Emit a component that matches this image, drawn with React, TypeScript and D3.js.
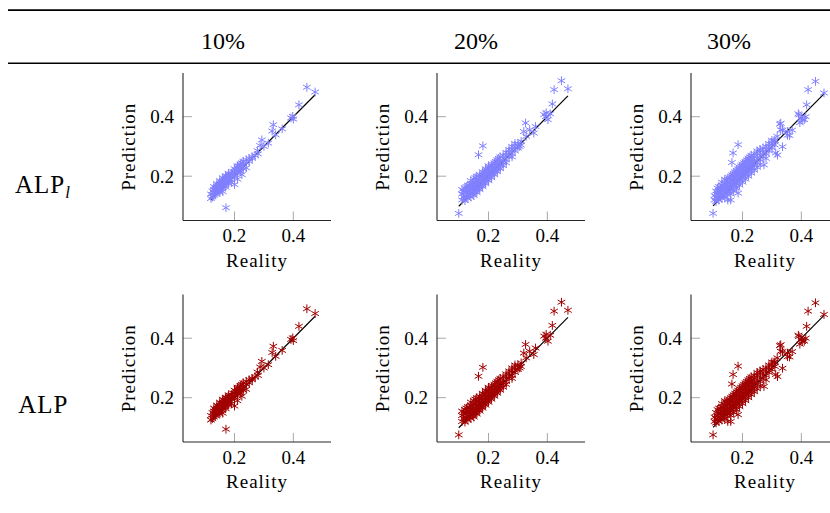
import React from "react";
import * as d3 from "d3";

// ---------- data ----------
const columnLabels = ["10%", "20%", "30%"];
const rowLabels = ["ALP", "ALP"]; // first row gets an italic subscript l
const rowColors = ["#8080ff", "#a00000"];
const xTicks = [0.2, 0.4];
const yTicks = [0.2, 0.4];
const xDomain: [number, number] = [0.025, 0.528];
const yDomain: [number, number] = [0.051, 0.547];

// [reality, prediction]
const pts10: [number, number][] = [
  [0.446, 0.499], [0.474, 0.483], [0.419, 0.44], [0.398, 0.401], [0.392, 0.396], [0.4, 0.392],
  [0.332, 0.373], [0.328, 0.352], [0.34, 0.339], [0.362, 0.359], [0.293, 0.322], [0.287, 0.303],
  [0.315, 0.311], [0.3, 0.3], [0.278, 0.286], [0.171, 0.094],
  [0.12, 0.125], [0.12, 0.14], [0.125, 0.13], [0.125, 0.15], [0.13, 0.135], [0.13, 0.155],
  [0.13, 0.145], [0.13, 0.165], [0.135, 0.14], [0.135, 0.16], [0.135, 0.15], [0.14, 0.145],
  [0.14, 0.165], [0.14, 0.155], [0.14, 0.175], [0.145, 0.15], [0.145, 0.17], [0.145, 0.16],
  [0.15, 0.155], [0.15, 0.175], [0.15, 0.165], [0.15, 0.185], [0.15, 0.145], [0.155, 0.16],
  [0.155, 0.18], [0.155, 0.17], [0.16, 0.165], [0.16, 0.185], [0.16, 0.175], [0.16, 0.195],
  [0.16, 0.148], [0.165, 0.17], [0.165, 0.19], [0.165, 0.18], [0.17, 0.175], [0.17, 0.195],
  [0.17, 0.185], [0.17, 0.2], [0.17, 0.163], [0.175, 0.18], [0.175, 0.2], [0.175, 0.19],
  [0.18, 0.185], [0.18, 0.205], [0.18, 0.195], [0.18, 0.175], [0.18, 0.21], [0.185, 0.19],
  [0.185, 0.2], [0.19, 0.195], [0.19, 0.21], [0.19, 0.2], [0.19, 0.18], [0.195, 0.205],
  [0.195, 0.215], [0.2, 0.2], [0.2, 0.215], [0.2, 0.225], [0.2, 0.172], [0.205, 0.21],
  [0.205, 0.22], [0.21, 0.215], [0.21, 0.23], [0.21, 0.19], [0.21, 0.235], [0.215, 0.22],
  [0.215, 0.235], [0.22, 0.225], [0.22, 0.24], [0.22, 0.215], [0.225, 0.23], [0.225, 0.245],
  [0.225, 0.205], [0.23, 0.24], [0.23, 0.25], [0.23, 0.225], [0.24, 0.245], [0.24, 0.255],
  [0.24, 0.228], [0.25, 0.25], [0.25, 0.26], [0.26, 0.26], [0.26, 0.265], [0.27, 0.27],
  [0.28, 0.275],
];

const pts20: [number, number][] = [
  [0.448, 0.521], [0.423, 0.491], [0.47, 0.494], [0.417, 0.443], [0.389, 0.407], [0.402, 0.39],
  [0.395, 0.4], [0.41, 0.41], [0.396, 0.413], [0.326, 0.379], [0.32, 0.35], [0.34, 0.356],
  [0.36, 0.367], [0.354, 0.345], [0.311, 0.317], [0.306, 0.3], [0.328, 0.334], [0.181, 0.302],
  [0.166, 0.272], [0.099, 0.075],
  [0.11, 0.12], [0.11, 0.14], [0.11, 0.155], [0.115, 0.13], [0.115, 0.15], [0.12, 0.118],
  [0.12, 0.135], [0.12, 0.16], [0.12, 0.145], [0.125, 0.13], [0.125, 0.15], [0.125, 0.165],
  [0.13, 0.125], [0.13, 0.14], [0.13, 0.155], [0.13, 0.17], [0.135, 0.135], [0.135, 0.15],
  [0.135, 0.165], [0.14, 0.13], [0.14, 0.145], [0.14, 0.16], [0.14, 0.175], [0.14, 0.185],
  [0.145, 0.14], [0.145, 0.155], [0.145, 0.17], [0.15, 0.145], [0.15, 0.16], [0.15, 0.175],
  [0.15, 0.19], [0.15, 0.135], [0.155, 0.15], [0.155, 0.165], [0.155, 0.18], [0.155, 0.195],
  [0.16, 0.155], [0.16, 0.17], [0.16, 0.185], [0.16, 0.2], [0.16, 0.145], [0.165, 0.16],
  [0.165, 0.175], [0.165, 0.19], [0.17, 0.165], [0.17, 0.18], [0.17, 0.195], [0.17, 0.205],
  [0.17, 0.155], [0.175, 0.17], [0.175, 0.185], [0.175, 0.2], [0.18, 0.175], [0.18, 0.19],
  [0.18, 0.205], [0.18, 0.215], [0.18, 0.165], [0.185, 0.18], [0.185, 0.195], [0.185, 0.21],
  [0.19, 0.185], [0.19, 0.2], [0.19, 0.215], [0.19, 0.225], [0.19, 0.175], [0.195, 0.19],
  [0.195, 0.205], [0.195, 0.22], [0.2, 0.195], [0.2, 0.21], [0.2, 0.225], [0.2, 0.235],
  [0.2, 0.185], [0.205, 0.2], [0.205, 0.215], [0.205, 0.23], [0.21, 0.205], [0.21, 0.22],
  [0.21, 0.235], [0.21, 0.195], [0.215, 0.21], [0.215, 0.225], [0.215, 0.24], [0.22, 0.215],
  [0.22, 0.23], [0.22, 0.245], [0.22, 0.205], [0.225, 0.22], [0.225, 0.235], [0.225, 0.25],
  [0.23, 0.225], [0.23, 0.24], [0.23, 0.255], [0.23, 0.215], [0.235, 0.23], [0.235, 0.245],
  [0.235, 0.26], [0.24, 0.235], [0.24, 0.25], [0.24, 0.265], [0.24, 0.225], [0.25, 0.245],
  [0.25, 0.26], [0.25, 0.27], [0.25, 0.235], [0.26, 0.255], [0.26, 0.27], [0.26, 0.28],
  [0.26, 0.245], [0.27, 0.265], [0.27, 0.28], [0.27, 0.29], [0.28, 0.275], [0.28, 0.29],
  [0.28, 0.3], [0.28, 0.265], [0.29, 0.285], [0.29, 0.3], [0.29, 0.31], [0.3, 0.295],
  [0.3, 0.31], [0.31, 0.305],
];

const pts30: [number, number][] = [
  [0.448, 0.519], [0.423, 0.491], [0.477, 0.48], [0.418, 0.44], [0.39, 0.41], [0.4, 0.395],
  [0.41, 0.39], [0.395, 0.38], [0.403, 0.389], [0.415, 0.4], [0.392, 0.406], [0.327, 0.375],
  [0.33, 0.356], [0.353, 0.35], [0.36, 0.337], [0.318, 0.334], [0.307, 0.319], [0.313, 0.278],
  [0.336, 0.299], [0.319, 0.271], [0.353, 0.338], [0.369, 0.355], [0.33, 0.378], [0.336, 0.355],
  [0.185, 0.306], [0.168, 0.278], [0.164, 0.246], [0.1, 0.075],
  [0.105, 0.12], [0.105, 0.135], [0.11, 0.115], [0.11, 0.13], [0.11, 0.15], [0.115, 0.125],
  [0.115, 0.14], [0.115, 0.16], [0.12, 0.12], [0.12, 0.135], [0.12, 0.15], [0.12, 0.165],
  [0.125, 0.13], [0.125, 0.145], [0.125, 0.16], [0.13, 0.125], [0.13, 0.14], [0.13, 0.155],
  [0.13, 0.17], [0.13, 0.18], [0.135, 0.135], [0.135, 0.15], [0.135, 0.165], [0.14, 0.13],
  [0.14, 0.145], [0.14, 0.16], [0.14, 0.175], [0.14, 0.19], [0.145, 0.14], [0.145, 0.155],
  [0.145, 0.17], [0.145, 0.185], [0.15, 0.12], [0.15, 0.145], [0.15, 0.16], [0.15, 0.175],
  [0.15, 0.19], [0.155, 0.15], [0.155, 0.165], [0.155, 0.18], [0.155, 0.195], [0.16, 0.12],
  [0.16, 0.155], [0.16, 0.17], [0.16, 0.185], [0.16, 0.2], [0.16, 0.14], [0.165, 0.16],
  [0.165, 0.175], [0.165, 0.19], [0.165, 0.205], [0.17, 0.165], [0.17, 0.18], [0.17, 0.195],
  [0.17, 0.21], [0.17, 0.15], [0.175, 0.17], [0.175, 0.185], [0.175, 0.2], [0.175, 0.215],
  [0.18, 0.175], [0.18, 0.19], [0.18, 0.205], [0.18, 0.22], [0.18, 0.16], [0.185, 0.18],
  [0.185, 0.195], [0.185, 0.21], [0.185, 0.225], [0.185, 0.143], [0.19, 0.185], [0.19, 0.2],
  [0.19, 0.215], [0.19, 0.23], [0.19, 0.17], [0.195, 0.19], [0.195, 0.205], [0.195, 0.22],
  [0.195, 0.235], [0.2, 0.195], [0.2, 0.21], [0.2, 0.225], [0.2, 0.24], [0.2, 0.18],
  [0.205, 0.2], [0.205, 0.215], [0.205, 0.23], [0.205, 0.245], [0.21, 0.205], [0.21, 0.22],
  [0.21, 0.235], [0.21, 0.25], [0.21, 0.19], [0.215, 0.21], [0.215, 0.225], [0.215, 0.24],
  [0.215, 0.255], [0.22, 0.215], [0.22, 0.23], [0.22, 0.245], [0.22, 0.26], [0.22, 0.2],
  [0.225, 0.22], [0.225, 0.235], [0.225, 0.25], [0.225, 0.265], [0.23, 0.225], [0.23, 0.24],
  [0.23, 0.255], [0.23, 0.27], [0.23, 0.21], [0.235, 0.23], [0.235, 0.245], [0.235, 0.26],
  [0.24, 0.235], [0.24, 0.25], [0.24, 0.265], [0.24, 0.275], [0.24, 0.22], [0.25, 0.245],
  [0.25, 0.26], [0.25, 0.275], [0.25, 0.285], [0.25, 0.23], [0.26, 0.255], [0.26, 0.27],
  [0.26, 0.285], [0.26, 0.29], [0.26, 0.24], [0.27, 0.265], [0.27, 0.28], [0.27, 0.295],
  [0.273, 0.238], [0.28, 0.275], [0.28, 0.29], [0.28, 0.3], [0.28, 0.26], [0.29, 0.285],
  [0.29, 0.3], [0.29, 0.31], [0.3, 0.295], [0.3, 0.31], [0.3, 0.32], [0.31, 0.305], [0.31, 0.32],
];

const datasets = [pts10, pts20, pts30];

// ---------- layout ----------
const W = 830;
const H = 513;
const colAxisX = [183, 437, 691];
const rowBottom = [220.5, 442];
const plotW = 148;
const plotH = 147.5;
const headerX = [223, 476, 729];
const FONT = "'Liberation Serif', Tinos, 'Times New Roman', serif";
const txt = { fontFamily: FONT, fill: "#000" } as React.CSSProperties;

function asteriskPath(r: number) {
  const c = r * Math.cos(Math.PI / 6);
  const s = r * Math.sin(Math.PI / 6);
  return `M0,${-r}L0,${r}M${-c},${-s}L${c},${s}M${-c},${s}L${c},${-s}`;
}
const markPath = asteriskPath(4.4);

function Panel({ col, row }: { col: number; row: number }) {
  const x0 = colAxisX[col];
  const yb = rowBottom[row];
  const x = d3.scaleLinear().domain(xDomain).range([x0, x0 + plotW]);
  const y = d3.scaleLinear().domain(yDomain).range([yb, yb - plotH]);
  const data = datasets[col];
  const ext = d3.extent(data, (d) => d[0]) as [number, number];
  const line = d3
    .line<number>()
    .x((v) => x(v))
    .y((v) => y(v));
  const color = rowColors[row];
  return (
    <g>
      {xTicks.map((t) => (
        <line key={"xt" + t} x1={x(t)} x2={x(t)} y1={yb} y2={yb - 9} stroke="#a8a8a8" strokeWidth={1} />
      ))}
      {yTicks.map((t) => (
        <line key={"yt" + t} x1={x0} x2={x0 + 9} y1={y(t)} y2={y(t)} stroke="#a8a8a8" strokeWidth={1} />
      ))}
      <line x1={x0} x2={x0} y1={yb} y2={yb - plotH} stroke="#262626" strokeWidth={1.1} />
      <line x1={x0} x2={x0 + plotW} y1={yb} y2={yb} stroke="#262626" strokeWidth={1.1} />
      <path d={line(ext) || ""} fill="none" stroke="#000" strokeWidth={1.2} />
      {data.map((d, i) => (
        <path
          key={i}
          d={markPath}
          transform={`translate(${x(d[0])},${y(d[1])})`}
          fill="none"
          stroke={color}
          strokeWidth={1}
        />
      ))}
      {xTicks.map((t) => (
        <text key={"xl" + t} x={x(t)} y={yb + 21.5} textAnchor="middle" style={{ ...txt, fontSize: 19 }}>
          {t.toFixed(1)}
        </text>
      ))}
      {yTicks.map((t) => (
        <text key={"yl" + t} x={x0 - 9} y={y(t) + 6.5} textAnchor="end" style={{ ...txt, fontSize: 19 }}>
          {t.toFixed(1)}
        </text>
      ))}
      <text
        x={x0 + plotW / 2}
        y={yb + 46}
        textAnchor="middle"
        style={{ ...txt, fontSize: 19, letterSpacing: 1 }}
      >
        Reality
      </text>
      <text
        transform={`translate(${x0 - 48},${yb - plotH / 2}) rotate(-90)`}
        textAnchor="middle"
        style={{ ...txt, fontSize: 19, letterSpacing: 1 }}
      >
        Prediction
      </text>
    </g>
  );
}

export default function App() {
  return (
    <svg
      width={W}
      height={H}
      viewBox={`0 0 ${W} ${H}`}
      style={{ position: "absolute", left: 0, top: 0, background: "#fff" }}
    >
      <rect x={0} y={0} width={W} height={H} fill="#fff" />
      <line x1={8} x2={W} y1={10.2} y2={10.2} stroke="#000" strokeWidth={1.7} />
      <line x1={8} x2={W} y1={63.3} y2={63.3} stroke="#000" strokeWidth={1.4} />
      {columnLabels.map((c, i) => (
        <text key={c} x={headerX[i]} y={49.3} textAnchor="middle" style={{ ...txt, fontSize: 24 }}>
          {c}
        </text>
      ))}
      <text x={15} y={192.7} style={{ ...txt, fontSize: 25, letterSpacing: 1 }}>
        {rowLabels[0]}
        <tspan dy={5} style={{ fontStyle: "italic", fontSize: 17, letterSpacing: 0 }}>
          l
        </tspan>
      </text>
      <text x={18.3} y={413.3} style={{ ...txt, fontSize: 25, letterSpacing: 1 }}>
        {rowLabels[1]}
      </text>
      {[0, 1].map((r) => [0, 1, 2].map((c) => <Panel key={r + "-" + c} row={r} col={c} />))}
    </svg>
  );
}
